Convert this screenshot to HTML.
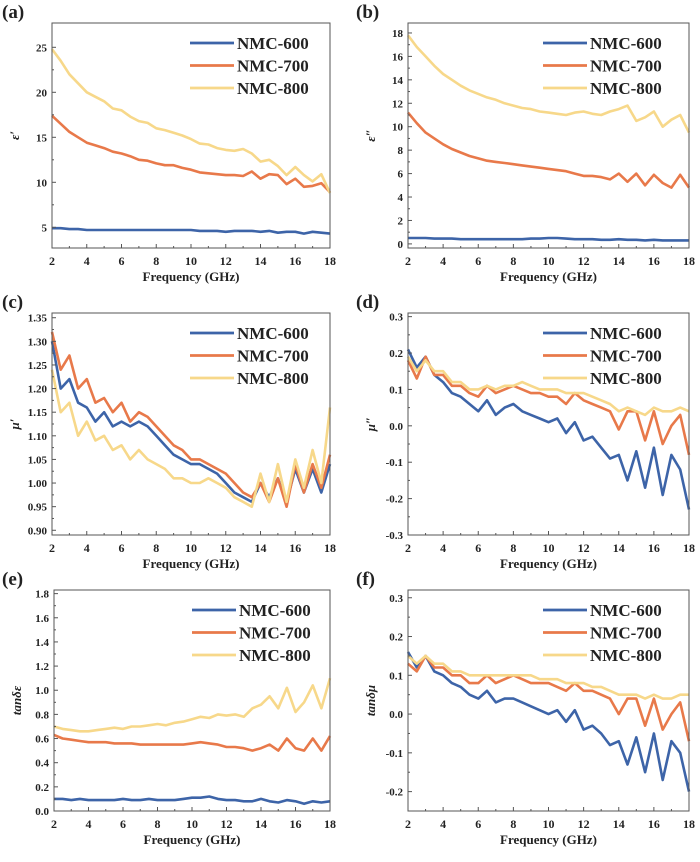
<!DOCTYPE html>
<html><head><meta charset="utf-8"><style>
body{margin:0;background:#fff;}
svg{display:block;}
text{font-family:"Liberation Serif",serif;font-weight:bold;fill:#222;}
</style></head><body>
<svg id="fig" width="700" height="862" viewBox="0 0 700 862" xmlns="http://www.w3.org/2000/svg"></svg>
<script>
const freqs = [2,2.5,3,3.5,4,4.5,5,5.5,6,6.5,7,7.5,8,8.5,9,9.5,10,10.5,11,11.5,12,12.5,13,13.5,14,14.5,15,15.5,16,16.5,17,17.5,18];
const seriesNames = ["NMC-600","NMC-700","NMC-800"];
const colors = ["#3d64a8","#e8794a","#f7d88a"];
const xTicks = [2,4,6,8,10,12,14,16,18];

const a600 = [4.9,4.9,4.8,4.8,4.7,4.7,4.7,4.7,4.7,4.7,4.7,4.7,4.7,4.7,4.7,4.7,4.7,4.6,4.6,4.6,4.5,4.6,4.6,4.6,4.5,4.6,4.4,4.5,4.5,4.3,4.5,4.4,4.3];
const a700 = [17.4,16.5,15.6,15,14.4,14.1,13.8,13.4,13.2,12.9,12.5,12.4,12.1,11.9,11.9,11.6,11.4,11.1,11,10.9,10.8,10.8,10.7,11.2,10.4,10.9,10.8,9.8,10.4,9.5,9.6,9.9,8.9];
const a800 = [24.8,23.5,22,21,20,19.5,19,18.2,18,17.3,16.8,16.6,16,15.8,15.5,15.2,14.8,14.3,14.2,13.8,13.6,13.5,13.7,13.2,12.3,12.5,11.8,10.8,11.7,10.8,10.1,10.9,8.8];
const aTicks = [5,10,15,20,25];

const b600 = [0.5,0.5,0.5,0.45,0.45,0.45,0.4,0.4,0.4,0.4,0.4,0.4,0.4,0.4,0.45,0.45,0.5,0.5,0.45,0.4,0.4,0.4,0.35,0.35,0.4,0.35,0.35,0.3,0.35,0.3,0.3,0.3,0.3];
const b700 = [11.2,10.3,9.5,9,8.5,8.1,7.8,7.5,7.3,7.1,7,6.9,6.8,6.7,6.6,6.5,6.4,6.3,6.2,6,5.8,5.8,5.7,5.5,6,5.3,6,5,5.9,5.2,4.8,5.9,4.8];
const b800 = [17.8,16.8,16,15.2,14.5,14,13.5,13.1,12.8,12.5,12.3,12,11.8,11.6,11.5,11.3,11.2,11.1,11,11.2,11.3,11.1,11,11.3,11.5,11.8,10.5,10.8,11.3,10,10.6,11,9.5];
const bTicks = [0,2,4,6,8,10,12,14,16,18];

const c600 = [1.30,1.20,1.22,1.17,1.16,1.13,1.15,1.12,1.13,1.12,1.13,1.12,1.10,1.08,1.06,1.05,1.04,1.04,1.03,1.02,1.00,0.98,0.97,0.96,1.00,0.97,1.01,0.96,1.03,0.98,1.03,0.98,1.04];
const c700 = [1.32,1.24,1.27,1.20,1.22,1.17,1.18,1.15,1.17,1.13,1.15,1.14,1.12,1.10,1.08,1.07,1.05,1.05,1.04,1.03,1.02,1.00,0.98,0.97,1.00,0.96,1.01,0.95,1.04,0.98,1.04,0.99,1.06];
const c800 = [1.24,1.15,1.17,1.10,1.13,1.09,1.10,1.07,1.08,1.05,1.07,1.05,1.04,1.03,1.01,1.01,1.00,1.00,1.01,1.00,0.99,0.97,0.96,0.95,1.02,0.96,1.04,0.96,1.05,0.99,1.07,1.00,1.16];
const cTicks = [0.90,0.95,1.00,1.05,1.10,1.15,1.20,1.25,1.30,1.35];

const d600 = [0.21,0.16,0.19,0.14,0.12,0.09,0.08,0.06,0.04,0.07,0.03,0.05,0.06,0.04,0.03,0.02,0.01,0.02,-0.02,0.01,-0.04,-0.03,-0.06,-0.09,-0.08,-0.15,-0.07,-0.17,-0.06,-0.19,-0.08,-0.12,-0.23];
const d700 = [0.18,0.13,0.19,0.14,0.14,0.11,0.11,0.09,0.08,0.11,0.09,0.10,0.11,0.10,0.09,0.09,0.08,0.08,0.06,0.09,0.07,0.06,0.05,0.04,-0.01,0.04,0.04,-0.04,0.04,-0.05,0.0,0.03,-0.08];
const d800 = [0.19,0.15,0.18,0.15,0.15,0.12,0.12,0.10,0.10,0.11,0.10,0.11,0.11,0.12,0.11,0.10,0.10,0.10,0.09,0.09,0.09,0.08,0.07,0.06,0.04,0.05,0.04,0.03,0.05,0.04,0.04,0.05,0.04];
const dTicks = [-0.3,-0.2,-0.1,0.0,0.1,0.2,0.3];

const e600 = [0.10,0.10,0.09,0.10,0.09,0.09,0.09,0.09,0.10,0.09,0.09,0.10,0.09,0.09,0.09,0.10,0.11,0.11,0.12,0.10,0.09,0.09,0.08,0.08,0.10,0.08,0.07,0.09,0.08,0.06,0.08,0.07,0.08];
const e700 = [0.63,0.60,0.59,0.58,0.57,0.57,0.57,0.56,0.56,0.56,0.55,0.55,0.55,0.55,0.55,0.55,0.56,0.57,0.56,0.55,0.53,0.53,0.52,0.50,0.52,0.55,0.50,0.60,0.52,0.50,0.60,0.50,0.62];
const e800 = [0.70,0.68,0.67,0.66,0.66,0.67,0.68,0.69,0.68,0.70,0.70,0.71,0.72,0.71,0.73,0.74,0.76,0.78,0.77,0.80,0.79,0.80,0.78,0.85,0.88,0.95,0.85,1.02,0.82,0.90,1.04,0.85,1.10];
const eTicks = [0.0,0.2,0.4,0.6,0.8,1.0,1.2,1.4,1.6,1.8];

const f600 = [0.16,0.12,0.15,0.11,0.10,0.08,0.07,0.05,0.04,0.06,0.03,0.04,0.04,0.03,0.02,0.01,0.0,0.01,-0.02,0.01,-0.04,-0.03,-0.05,-0.08,-0.07,-0.13,-0.06,-0.15,-0.05,-0.17,-0.07,-0.10,-0.20];
const f700 = [0.13,0.11,0.15,0.12,0.12,0.10,0.10,0.08,0.08,0.10,0.08,0.09,0.10,0.09,0.08,0.08,0.08,0.07,0.06,0.08,0.06,0.06,0.05,0.04,0.0,0.04,0.04,-0.03,0.04,-0.04,0.0,0.03,-0.07];
const f800 = [0.15,0.13,0.15,0.13,0.13,0.11,0.11,0.10,0.10,0.10,0.10,0.10,0.10,0.10,0.10,0.09,0.09,0.09,0.08,0.08,0.08,0.07,0.07,0.06,0.05,0.05,0.05,0.04,0.05,0.04,0.04,0.05,0.05];
const fTicks = [-0.2,-0.1,0.0,0.1,0.2,0.3];

const NS="http://www.w3.org/2000/svg";
const svg=document.getElementById('fig');
function mk(tag,attrs,parent){const e=document.createElementNS(NS,tag);for(const k in attrs)e.setAttribute(k,attrs[k]);(parent||svg).appendChild(e);return e;}

const panels=[
 {id:"a",L:52,T:23,R:330,B:248,ymin:2.7,ymax:27.7,ticks:aTicks,dec:0,data:[a600,a700,a800],ylab:"ε′",lx:2},
 {id:"b",L:408,T:23,R:689,B:248,ymin:-0.35,ymax:18.85,ticks:bTicks,dec:0,data:[b600,b700,b800],ylab:"ε″",lx:356},
 {id:"c",L:52,T:313,R:330,B:535,ymin:0.89,ymax:1.36,ticks:cTicks,dec:2,data:[c600,c700,c800],ylab:"μ′",lx:2},
 {id:"d",L:408,T:313,R:689,B:535,ymin:-0.3,ymax:0.31,ticks:dTicks,dec:1,data:[d600,d700,d800],ylab:"μ″",lx:356},
 {id:"e",L:54,T:590,R:330,B:811,ymin:0,ymax:1.83,ticks:eTicks,dec:1,data:[e600,e700,e800],ylab:"tanδε",lx:2},
 {id:"f",L:408,T:590,R:689,B:811,ymin:-0.25,ymax:0.32,ticks:fTicks,dec:1,data:[f600,f700,f800],ylab:"tanδμ",lx:356}
];

panels.forEach(p=>{
  const g=mk('g',{});
  
  
  const xs=v=>p.L+(v-2)/16*(p.R-p.L);
  const ys=v=>p.B-(v-p.ymin)/(p.ymax-p.ymin)*(p.B-p.T);
  const lab=mk('text',{x:p.lx,y:p.T-5,'font-size':19},g);lab.textContent='('+p.id+')';
  
  
  // series
  p.data.forEach((arr,i)=>{
    const pts=arr.map((v,j)=>xs(freqs[j]).toFixed(1)+','+ys(v).toFixed(1)).join(' ');
    const pl=mk('polyline',{points:pts,fill:'none',stroke:colors[i],'stroke-width':2.6,'stroke-linejoin':'round'},g);
    
    
  });
  // frame
  const fr=mk('rect',{x:p.L,y:p.T,width:p.R-p.L,height:p.B-p.T,fill:'none',stroke:'#555','stroke-width':1},g);
  
  
  // x ticks
  xTicks.forEach((t,k)=>{
    const x=xs(t);
    mk('line',{x1:x,y1:p.B,x2:x,y2:p.B-4,stroke:'#555'},g);
    if(k<xTicks.length-1) mk('line',{x1:xs(t+1),y1:p.B,x2:xs(t+1),y2:p.B-2,stroke:'#555'},g);
    const tx=mk('text',{x:x,y:p.B+17,'font-size':12,'text-anchor':'middle'},g);tx.textContent=t;
    
    
  });
  const xt=mk('text',{x:(p.L+p.R)/2,y:p.B+33,'font-size':13,'text-anchor':'middle'},g);xt.textContent='Frequency (GHz)';
  
  
  // y ticks
  p.ticks.forEach((t,k)=>{
    const y=ys(t);
    mk('line',{x1:p.L,y1:y,x2:p.L+4,y2:y,stroke:'#555'},g);
    if(k<p.ticks.length-1){const m=ys((t+p.ticks[k+1])/2);mk('line',{x1:p.L,y1:m,x2:p.L+2,y2:m,stroke:'#555'},g);}
    const ty=mk('text',{x:p.L-5,y:y+4,'font-size':11,'text-anchor':'end'},g);ty.textContent=t.toFixed(p.dec);
    
    
  });
  const yl=mk('text',{x:0,y:0,'font-size':13,'font-style':'italic','text-anchor':'middle',transform:'translate('+(p.L-33)+','+((p.T+p.B)/2)+') rotate(-90)'},g);
  yl.textContent=p.ylab;
  
  
  // legend
  const lx=p.L+(p.id==='a'||p.id==='c'||p.id==='e'?138:135);
  seriesNames.forEach((n,i)=>{
    const y=p.T+20+i*22.5;
    const lg=mk('g',{},g);
    
    
    mk('line',{x1:lx,y1:y,x2:lx+44,y2:y,stroke:colors[i],'stroke-width':2.8},lg);
    const t=mk('text',{x:lx+47,y:y+6,'font-size':17},lg);t.textContent=n;
  });
});
</script>
</body></html>
